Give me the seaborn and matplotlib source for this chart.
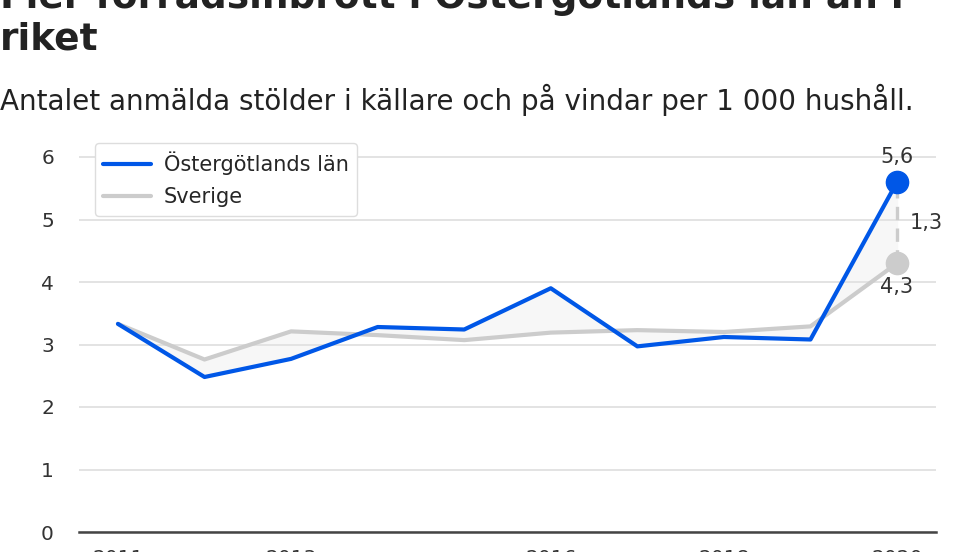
import matplotlib
matplotlib.use('Agg')
import matplotlib.pyplot as plt
import seaborn as sns
import pandas as pd

# data
years = [2011, 2012, 2013, 2014, 2015, 2016, 2017, 2018, 2019, 2020]
ostergotland = [3.33, 2.48, 2.77, 3.28, 3.24, 3.90, 2.97, 3.12, 3.08, 5.6]
sverige = [3.33, 2.76, 3.21, 3.15, 3.07, 3.19, 3.23, 3.20, 3.29, 4.3]
xticks = [2011, 2013, 2016, 2018, 2020]
yticks = [0, 1, 2, 3, 4, 5, 6]

title = "Fler förrådsinbrott i Östergötlands län än i\nriket"
subtitle = "Antalet anmälda stölder i källare och på vindar per 1 000 hushåll."

BLUE = '#0057e7'
GREY = '#cccccc'
TEXT = '#333333'

sns.set_style('whitegrid')
plt.rcParams['font.family'] = ['DejaVu Sans']

df = pd.DataFrame({
    'year': years + years,
    'value': ostergotland + sverige,
    'series': ['Östergötlands län'] * len(years) + ['Sverige'] * len(years),
})

fig = plt.figure(figsize=(9.8, 5.52), dpi=100)
ax = fig.add_axes([79 / 980, 20 / 552, 857 / 980, 393.75 / 552])

sns.lineplot(data=df, x='year', y='value', hue='series',
             palette={'Östergötlands län': BLUE, 'Sverige': GREY},
             hue_order=['Sverige', 'Östergötlands län'],
             linewidth=3, ax=ax, legend=False)
ax.fill_between(years, ostergotland, sverige, color='#f7f7f7', zorder=0)

# end points + gap
last_o, last_s = ostergotland[-1], sverige[-1]
ax.plot([years[-1], years[-1]], [last_s, last_o], color=GREY, lw=2.4,
        ls=(0, (4, 2.5)), zorder=1)
ax.plot(years[-1], last_s, 'o', color=GREY, ms=16, clip_on=False, zorder=4)
ax.plot(years[-1], last_o, 'o', color=BLUE, ms=16, clip_on=False, zorder=5)
ax.annotate(f"{last_o:.1f}".replace('.', ','), (years[-1], last_o),
            xytext=(0, 18), textcoords='offset points', ha='center', va='center',
            fontsize=15, color=TEXT)
ax.annotate(f"{last_s:.1f}".replace('.', ','), (years[-1], last_s),
            xytext=(0, -17), textcoords='offset points', ha='center', va='center',
            fontsize=15, color=TEXT)
ax.annotate(f"{last_o - last_s:.1f}".replace('.', ','),
            (years[-1], (last_o + last_s) / 2),
            xytext=(21, 0), textcoords='offset points', ha='center', va='center',
            fontsize=15, color=TEXT)

ax.set_xlim(2010.55, 2020.45)
ax.set_ylim(0, 6.3)
ax.set_xticks(xticks)
ax.set_yticks(yticks)
ax.set_xlabel('')
ax.set_ylabel('')
ax.grid(axis='x', visible=False)
ax.grid(axis='y', color='#e3e3e3', linewidth=1.4)
for s in ['left', 'top', 'right']:
    ax.spines[s].set_visible(False)
ax.spines['bottom'].set_color('#444444')
ax.spines['bottom'].set_linewidth(1.8)
ax.tick_params(axis='x', length=6, width=1.2, color='#444444', pad=6,
               labelsize=14.5, labelcolor=TEXT)
ax.tick_params(axis='y', length=0, pad=18, labelsize=14.5, labelcolor=TEXT)

handles = [plt.Line2D([], [], color=BLUE, lw=3), plt.Line2D([], [], color=GREY, lw=3)]
ax.legend(handles, ['Östergötlands län', 'Sverige'], loc='upper left',
          bbox_to_anchor=(16 / 857, 0.988), borderaxespad=0, fontsize=15,
          frameon=True, facecolor='white', edgecolor='#dddddd', framealpha=1,
          handlelength=2.3, handletextpad=0.6, labelspacing=0.6)

fig.text(0.0, 1 - 50 / 552, title, va='baseline', ha='left', fontsize=27,
         weight='bold', color='#222222', linespacing=1.2)
fig.text(0.0, 1 - 110 / 552, subtitle, va='baseline', ha='left', fontsize=20,
         color='#222222')

fig.savefig('out.png', dpi=100)
